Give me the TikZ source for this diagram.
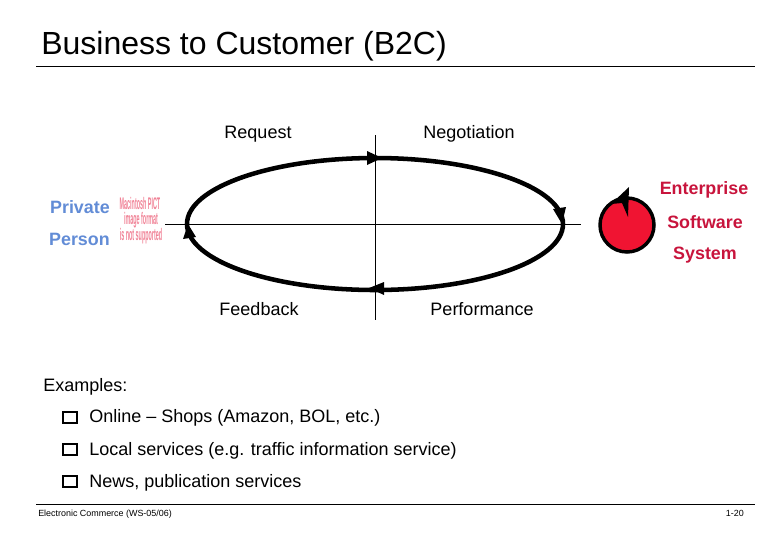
\documentclass[tikz,border=0pt]{standalone}
\usepackage{fontspec}
\setmainfont{Liberation Sans}
\usepackage{xcolor}
\definecolor{PersonBlue}{RGB}{98,140,214}
\definecolor{SystemRed}{RGB}{200,20,60}
\definecolor{DiscRed}{RGB}{240,20,50}
\definecolor{PictPink}{RGB}{240,130,150}
\tikzset{
  label plain/.style={font=\fontsize{13.5}{16}\selectfont, inner sep=0pt},
  label blue/.style={font=\fontsize{13.4}{16}\selectfont\bfseries, text=PersonBlue, inner sep=0pt},
  label red/.style={font=\fontsize{13.4}{16}\selectfont\bfseries, text=SystemRed, inner sep=0pt},
  pict line/.style={font=\fontsize{7}{8}\selectfont\bfseries, text=PictPink, inner sep=0pt, xscale=0.58, yscale=1.8},
  bullet box/.style={draw, line width=1.4pt, minimum width=10pt, minimum height=8pt, inner sep=0pt},
  head tip/.style={fill=black, draw=none}
}
\begin{document}
\begin{tikzpicture}[x=0.75pt, y=-0.75pt]
\useasboundingbox (0,0) rectangle (780,540);

\node[anchor=west, font=\fontsize{24}{28}\selectfont, inner sep=0pt] (Title) at (41,46) {Business to Customer (B2C)};
\draw[line width=0.6pt] (36,66) -- (755,66); % title rule
\draw[line width=0.6pt] (36,504) -- (755,504); % footer rule

\draw[line width=0.5pt] (375,135) -- (375,320); % vertical axis
\draw[line width=0.5pt] (165,224) -- (581,224); % horizontal axis
\draw[line width=3.4pt] (375,224) ellipse (188 and 66); % cycle

\fill[head tip] (367,151) -- (382,158) -- (367,165) -- cycle; % request to negotiation
\fill[head tip] (553,209) -- (566,207) -- (562,224) -- cycle; % negotiation to performance
\fill[head tip] (384,282) -- (369,288) -- (384,295) -- cycle; % performance to feedback
\fill[head tip] (183,239) -- (188,224) -- (196,237) -- cycle; % feedback to request

\node[label plain, anchor=base] (Request) at (258,138) {Request};
\node[label plain, anchor=base] (Negotiation) at (469,138) {Negotiation};
\node[label plain, anchor=base] (Feedback) at (259,315) {Feedback};
\node[label plain, anchor=base] (Performance) at (482,315) {Performance};

\node[label blue, anchor=east] (Private) at (110,207) {Private};
\node[label blue, anchor=east] (Person) at (110,239.5) {Person};
\node[pict line] (PictA) at (140,203) {Macintosh PICT};
\node[pict line] (PictB) at (141,220) {image format};
\node[pict line] (PictC) at (141,236) {is not supported};

\node[label red] (Enterprise) at (704,190) {Enterprise};
\node[label red] (Software) at (705,222.5) {Software};
\node[label red] (System) at (705,255) {System};

\draw[line width=2.6pt, fill=DiscRed] (627,225) circle (27); % system disc
\fill[head tip] (611,204) -- (629,187) -- (628,217) -- (622,203) -- cycle; % disc arrow

\node[label plain, anchor=west] (Examples) at (43,386.5) {Examples:};
\node[bullet box] (BoxA) at (70,417.5) {};
\node[label plain, anchor=west] (ItemA) at (89,418) {Online – Shops (Amazon, BOL, etc.)};
\node[bullet box] (BoxB) at (70,449.5) {};
\node[label plain, anchor=west] (ItemB) at (89,451) {Local services (e.g. traffic information service)};
\node[bullet box] (BoxC) at (70,481.5) {};
\node[label plain, anchor=west] (ItemC) at (89,483) {News, publication services};

\node[anchor=west, font=\fontsize{6.7}{8}\selectfont, inner sep=0pt] (Course) at (38,514) {Electronic Commerce (WS-05/06)};
\node[anchor=east, font=\fontsize{6.7}{8}\selectfont, inner sep=0pt] (PageNo) at (744,513) {1-20};
\end{tikzpicture}
\end{document}
